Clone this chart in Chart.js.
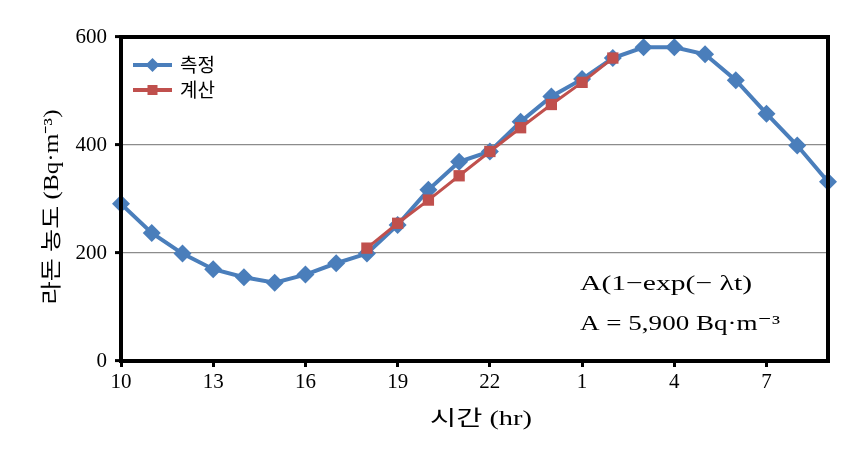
<!DOCTYPE html>
<html>
<head>
<meta charset="utf-8">
<script src="https://cdn.jsdelivr.net/npm/chart.js@4/dist/chart.umd.min.js"></script>
<style>
html,body{margin:0;padding:0;background:#fff;}
#wrap{width:855px;height:467px;position:relative;}
</style>
</head>
<body>
<div id="wrap"><canvas id="c" width="855" height="467"></canvas></div>
<script>
const hours = [10,11,12,13,14,15,16,17,18,19,20,21,22,23,0,1,2,3,4,5,6,7,8,9];
const measured = [291,237,199,170,155,145,160,181,199,252,317,369,388,443,490,522,561,581,581,568,520,458,399,332];
const calculated = [null,null,null,null,null,null,null,null,209,255,298,343,388,432,475,516,561,null,null,null,null,null,null,null];
const seriesNames = ['측정','계산'];
const yTicks = [0,200,400,600];
const xTitle = '시간 (hr)';
const yTitle = '라돈 농도 (Bq·m⁻³)';
const noteLines = ['A(1−exp(− λt)', 'A = 5,900 Bq·m⁻³'];

const BLUE = '#4A7EBB';
const RED = '#C0504D';
const SERIF = '"Liberation Serif","DejaVu Serif",serif';
const MIX = '"Liberation Serif","Noto Sans CJK KR",serif';
const KR = '"Noto Sans CJK KR","Noto Sans",sans-serif';

const toPts = arr => arr.map((v,i)=> v===null ? null : {x:i, y:v}).filter(p=>p);

function fitText(ctx, text, x, y, width, align){
  const w = ctx.measureText(text).width;
  const k = width / w;
  ctx.save();
  ctx.translate(x, y);
  ctx.scale(k, 1);
  ctx.textAlign = 'left';
  const x0 = align==='center' ? -w/2 : 0;
  ctx.fillText(text, x0, 0);
  ctx.restore();
}

const framePlugin = {
  id:'frame',
  afterDraw(chart){
    const {ctx, chartArea:a} = chart;
    ctx.save();
    ctx.strokeStyle = '#000';
    ctx.lineWidth = 4;
    ctx.strokeRect(a.left, a.top, a.right-a.left, a.bottom-a.top);
    // legend
    const ds = chart.data.datasets;
    const lx = a.left + 12, ly0 = a.top + 28, gap = 25;
    ds.forEach((d,i)=>{
      const y = ly0 + i*gap;
      ctx.strokeStyle = d.borderColor;
      ctx.lineWidth = 4;
      ctx.beginPath(); ctx.moveTo(lx, y); ctx.lineTo(lx+39, y); ctx.stroke();
      ctx.fillStyle = d.backgroundColor;
      const cx = lx+19.5;
      if (d.pointStyle==='rectRot'){
        const r=7;
        ctx.beginPath(); ctx.moveTo(cx,y-r); ctx.lineTo(cx+r,y); ctx.lineTo(cx,y+r); ctx.lineTo(cx-r,y); ctx.closePath(); ctx.fill();
      } else {
        ctx.fillRect(cx-5,y-5,10,10);
      }
      ctx.fillStyle = '#000';
      ctx.font = '19px '+KR;
      ctx.textAlign='left'; ctx.textBaseline='middle';
      ctx.fillText(d.label, lx+47, y);
    });
    // note
    ctx.fillStyle='#000';
    ctx.font = '22px '+SERIF;
    ctx.textBaseline='alphabetic';
    fitText(ctx, noteLines[0], 580, 290, 172, 'left');
    fitText(ctx, noteLines[1], 580, 330, 200, 'left');
    // axis titles
    ctx.font = '21px '+MIX;
    ctx.textBaseline='middle';
    fitText(ctx, xTitle, 481, 419, 102, 'center');
    ctx.save();
    ctx.translate(52, 207);
    ctx.rotate(-Math.PI/2);
    fitText(ctx, yTitle, 0, 0, 195, 'center');
    ctx.restore();
    ctx.restore();
  }
};

new Chart(document.getElementById('c'), {
  type:'line',
  data:{
    datasets:[
      {label:seriesNames[0], data:toPts(measured), borderColor:BLUE, backgroundColor:BLUE,
       borderWidth:4, pointStyle:'rectRot', pointRadius:9, pointHoverRadius:9, pointBorderWidth:0, clip:false, tension:0, order:2},
      {label:seriesNames[1], data:toPts(calculated), borderColor:RED, backgroundColor:RED,
       borderWidth:3, pointStyle:'rect', pointRadius:8, pointHoverRadius:8, pointBorderWidth:0, clip:false, tension:0, order:1}
    ]
  },
  options:{
    responsive:false, animation:false,
    layout:{padding:{left:0, top:37, right:27, bottom:0}},
    plugins:{legend:{display:false}, tooltip:{enabled:false}},
    scales:{
      x:{type:'linear', min:0, max:23,
        afterFit(s){ s.height = 467-37-324; },
        afterBuildTicks(s){ s.ticks = hours.map((h,i)=>({value:i})).filter(t=>t.value%3===0); },
        ticks:{callback:(v)=>String(hours[v]), color:'#000', font:{family:SERIF, size:21}, padding:3, maxRotation:0, autoSkip:false},
        grid:{drawOnChartArea:false, drawTicks:true, tickLength:6, color:'#000', lineWidth:3},
        border:{display:false}
      },
      y:{min:0, max:600,
        afterFit(s){ s.width = 121; },
        afterBuildTicks(s){ s.ticks = yTicks.map(v=>({value:v})); },
        ticks:{color:'#000', font:{family:SERIF, size:21}, padding:8},
        grid:{color:(c)=> (c.tick && (c.tick.value===0||c.tick.value===600)) ? 'rgba(0,0,0,0)' : '#8c8c8c', lineWidth:1.2, tickLength:6, tickColor:'#000', tickWidth:3, drawTicks:true},
        border:{display:false}
      }
    }
  },
  plugins:[framePlugin]
});
</script>
</body>
</html>
